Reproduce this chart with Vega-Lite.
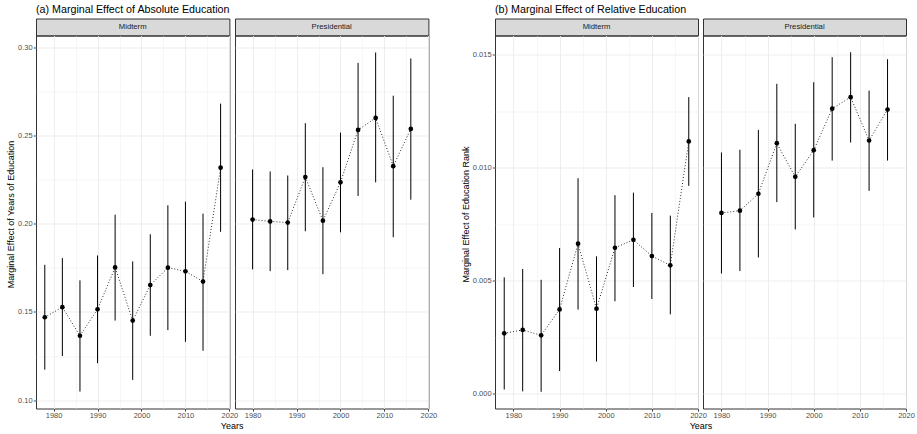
{
  "$schema": "https://vega.github.io/schema/vega-lite/v6.json",
  "padding": {"left": 6, "top": 3.5, "right": 5, "bottom": 2},
  "config": {
    "font": "Liberation Sans",
    "view": {"stroke": "#333333", "strokeWidth": 1},
    "axis": {
      "domain": false,
      "labelFont": "Liberation Sans", "labelFontSize": 7.5, "labelColor": "#4d4d4d",
      "tickColor": "#333333", "tickSize": 2.7, "tickWidth": 0.9, "labelPadding": 1.2,
      "titleFont": "Liberation Sans", "titleFontSize": 9, "titleFontWeight": "normal", "titleColor": "#000000",
      "gridColor": "#ebebeb",
      "labelFlush": false, "labelOverlap": false, "labelBound": false
    },
    "axisX": {"labelPadding": 0.3, "titlePadding": 2},
    "title": {"font": "Liberation Sans", "fontSize": 10.7, "fontWeight": "normal", "color": "#000000", "anchor": "start", "offset": 2.5}
  },
  "datasets": {
    "est": [
      {"panel": "a", "election": "Midterm", "year": 1978, "est": 0.1470, "lo": 0.1173, "hi": 0.1767},
      {"panel": "a", "election": "Midterm", "year": 1982, "est": 0.1527, "lo": 0.1250, "hi": 0.1805},
      {"panel": "a", "election": "Midterm", "year": 1986, "est": 0.1365, "lo": 0.1049, "hi": 0.1679},
      {"panel": "a", "election": "Midterm", "year": 1990, "est": 0.1515, "lo": 0.1210, "hi": 0.1820},
      {"panel": "a", "election": "Midterm", "year": 1994, "est": 0.1752, "lo": 0.1451, "hi": 0.2051},
      {"panel": "a", "election": "Midterm", "year": 1998, "est": 0.1451, "lo": 0.1115, "hi": 0.1786},
      {"panel": "a", "election": "Midterm", "year": 2002, "est": 0.1652, "lo": 0.1365, "hi": 0.1940},
      {"panel": "a", "election": "Midterm", "year": 2006, "est": 0.1751, "lo": 0.1397, "hi": 0.2104},
      {"panel": "a", "election": "Midterm", "year": 2010, "est": 0.1730, "lo": 0.1331, "hi": 0.2125},
      {"panel": "a", "election": "Midterm", "year": 2014, "est": 0.1672, "lo": 0.1280, "hi": 0.2057},
      {"panel": "a", "election": "Midterm", "year": 2018, "est": 0.2317, "lo": 0.1954, "hi": 0.2680},
      {"panel": "a", "election": "Presidential", "year": 1980, "est": 0.2023, "lo": 0.1741, "hi": 0.2307},
      {"panel": "a", "election": "Presidential", "year": 1984, "est": 0.2013, "lo": 0.1731, "hi": 0.2296},
      {"panel": "a", "election": "Presidential", "year": 1988, "est": 0.2006, "lo": 0.1737, "hi": 0.2273},
      {"panel": "a", "election": "Presidential", "year": 1992, "est": 0.2264, "lo": 0.1957, "hi": 0.2569},
      {"panel": "a", "election": "Presidential", "year": 1996, "est": 0.2017, "lo": 0.1714, "hi": 0.2320},
      {"panel": "a", "election": "Presidential", "year": 2000, "est": 0.2234, "lo": 0.1951, "hi": 0.2516},
      {"panel": "a", "election": "Presidential", "year": 2004, "est": 0.2531, "lo": 0.2157, "hi": 0.2911},
      {"panel": "a", "election": "Presidential", "year": 2008, "est": 0.2599, "lo": 0.2234, "hi": 0.2970},
      {"panel": "a", "election": "Presidential", "year": 2012, "est": 0.2326, "lo": 0.1923, "hi": 0.2725},
      {"panel": "a", "election": "Presidential", "year": 2016, "est": 0.2537, "lo": 0.2136, "hi": 0.2936},
      {"panel": "b", "election": "Midterm", "year": 1978, "est": 0.00267, "lo": 0.00018, "hi": 0.00515},
      {"panel": "b", "election": "Midterm", "year": 1982, "est": 0.00282, "lo": 0.00010, "hi": 0.00552},
      {"panel": "b", "election": "Midterm", "year": 1986, "est": 0.00258, "lo": 0.00008, "hi": 0.00504},
      {"panel": "b", "election": "Midterm", "year": 1990, "est": 0.00373, "lo": 0.00100, "hi": 0.00645},
      {"panel": "b", "election": "Midterm", "year": 1994, "est": 0.00664, "lo": 0.00372, "hi": 0.00954},
      {"panel": "b", "election": "Midterm", "year": 1998, "est": 0.00376, "lo": 0.00142, "hi": 0.00608},
      {"panel": "b", "election": "Midterm", "year": 2002, "est": 0.00646, "lo": 0.00409, "hi": 0.00879},
      {"panel": "b", "election": "Midterm", "year": 2006, "est": 0.00681, "lo": 0.00472, "hi": 0.00890},
      {"panel": "b", "election": "Midterm", "year": 2010, "est": 0.00609, "lo": 0.00419, "hi": 0.00800},
      {"panel": "b", "election": "Midterm", "year": 2014, "est": 0.00568, "lo": 0.00351, "hi": 0.00788},
      {"panel": "b", "election": "Midterm", "year": 2018, "est": 0.01117, "lo": 0.00920, "hi": 0.01313},
      {"panel": "b", "election": "Presidential", "year": 1980, "est": 0.00800, "lo": 0.00532, "hi": 0.01068},
      {"panel": "b", "election": "Presidential", "year": 1984, "est": 0.00810, "lo": 0.00543, "hi": 0.01080},
      {"panel": "b", "election": "Presidential", "year": 1988, "est": 0.00885, "lo": 0.00603, "hi": 0.01168},
      {"panel": "b", "election": "Presidential", "year": 1992, "est": 0.01109, "lo": 0.00848, "hi": 0.01372},
      {"panel": "b", "election": "Presidential", "year": 1996, "est": 0.00960, "lo": 0.00727, "hi": 0.01195},
      {"panel": "b", "election": "Presidential", "year": 2000, "est": 0.01078, "lo": 0.00780, "hi": 0.01379},
      {"panel": "b", "election": "Presidential", "year": 2004, "est": 0.01262, "lo": 0.01032, "hi": 0.01490},
      {"panel": "b", "election": "Presidential", "year": 2008, "est": 0.01313, "lo": 0.01112, "hi": 0.01512},
      {"panel": "b", "election": "Presidential", "year": 2012, "est": 0.01121, "lo": 0.00898, "hi": 0.01342},
      {"panel": "b", "election": "Presidential", "year": 2016, "est": 0.01258, "lo": 0.01032, "hi": 0.01481}
    ]
  },
  "columns": 5,
  "spacing": {"row": 0, "column": 5},
  "bounds": "flush",
  "concat": [
    {
      "title": {"text": "(a) Marginal Effect of Absolute Education"},
      "width": 193.4, "height": 17,
      "view": {"fill": "#d9d9d9", "stroke": "#333333"},
      "data": {"values": [{"label": "Midterm"}]},
      "mark": {"type": "text", "fontSize": 7.7, "color": "#1a1a1a", "baseline": "middle", "align": "center"},
      "encoding": {"text": {"field": "label"}}
    },
    {
      "width": 193.4, "height": 17,
      "view": {"fill": "#d9d9d9", "stroke": "#333333"},
      "data": {"values": [{"label": "Presidential"}]},
      "mark": {"type": "text", "fontSize": 7.7, "color": "#1a1a1a", "baseline": "middle", "align": "center"},
      "encoding": {"text": {"field": "label"}}
    },
    {
      "width": 56, "height": 17,
      "view": {"stroke": null},
      "data": {"values": [{"label": ""}]},
      "mark": {"type": "text"},
      "encoding": {"text": {"field": "label"}}
    },
    {
      "title": {"text": "(b) Marginal Effect of Relative Education"},
      "width": 203, "height": 17,
      "view": {"fill": "#d9d9d9", "stroke": "#333333"},
      "data": {"values": [{"label": "Midterm"}]},
      "mark": {"type": "text", "fontSize": 7.7, "color": "#1a1a1a", "baseline": "middle", "align": "center"},
      "encoding": {"text": {"field": "label"}}
    },
    {
      "width": 203, "height": 17,
      "view": {"fill": "#d9d9d9", "stroke": "#333333"},
      "data": {"values": [{"label": "Presidential"}]},
      "mark": {"type": "text", "fontSize": 7.7, "color": "#1a1a1a", "baseline": "middle", "align": "center"},
      "encoding": {"text": {"field": "label"}}
    },
    {
      "width": 193.4, "height": 373,
      "data": {"name": "est"},
      "transform": [{"filter": "datum.panel === 'a' && datum.election === 'Midterm'"}],
      "encoding": {
        "x": {"field": "year", "type": "quantitative", "scale": {"domain": [1976, 2020], "nice": false, "zero": false},
          "axis": {"values": [1980, 1985, 1990, 1995, 2000, 2005, 2010, 2015, 2020], "format": "d",
            "labelExpr": "datum.value % 10 === 0 ? datum.label : ''",
            "tickOpacity": {"condition": {"test": "datum.value % 10 !== 0", "value": 0}, "value": 1},
            "gridWidth": {"condition": {"test": "datum.value % 10 !== 0", "value": 0.45}, "value": 0.9},
            "title": "Years", "titleX": 195.7}},
        "y": {"field": "est", "type": "quantitative", "scale": {"domain": [0.0953, 0.3066], "nice": false, "zero": false},
          "axis": {"values": [0.1, 0.125, 0.15, 0.175, 0.2, 0.225, 0.25, 0.275, 0.3], "format": ".2f",
            "labelExpr": "abs(datum.value*20 - round(datum.value*20)) < 1e-6 ? datum.label : ''",
            "tickOpacity": {"condition": {"test": "abs(datum.value*20 - round(datum.value*20)) > 1e-6", "value": 0}, "value": 1},
            "gridWidth": {"condition": {"test": "abs(datum.value*20 - round(datum.value*20)) > 1e-6", "value": 0.45}, "value": 0.9},
            "title": "Marginal Effect of Years of Education", "titleY": 178.5, "titlePadding": 2}}
      },
      "layer": [
        {"mark": {"type": "line", "color": "#000000", "strokeWidth": 0.9, "strokeDash": [0.9, 2.1]}},
        {"mark": {"type": "rule", "color": "#000000", "strokeWidth": 1}, "encoding": {"y": {"field": "lo", "type": "quantitative"}, "y2": {"field": "hi"}}},
        {"mark": {"type": "point", "filled": true, "color": "#000000", "opacity": 1, "size": 22}}
      ]
    },
    {
      "width": 193.4, "height": 373,
      "data": {"name": "est"},
      "transform": [{"filter": "datum.panel === 'a' && datum.election === 'Presidential'"}],
      "encoding": {
        "x": {"field": "year", "type": "quantitative", "scale": {"domain": [1976, 2020], "nice": false, "zero": false},
          "axis": {"values": [1980, 1985, 1990, 1995, 2000, 2005, 2010, 2015, 2020], "format": "d",
            "labelExpr": "datum.value % 10 === 0 ? datum.label : ''",
            "tickOpacity": {"condition": {"test": "datum.value % 10 !== 0", "value": 0}, "value": 1},
            "gridWidth": {"condition": {"test": "datum.value % 10 !== 0", "value": 0.45}, "value": 0.9},
            "title": null}},
        "y": {"field": "est", "type": "quantitative", "scale": {"domain": [0.0953, 0.3066], "nice": false, "zero": false},
          "axis": {"values": [0.1, 0.125, 0.15, 0.175, 0.2, 0.225, 0.25, 0.275, 0.3],
            "labels": false, "ticks": false, "title": null,
            "gridWidth": {"condition": {"test": "abs(datum.value*20 - round(datum.value*20)) > 1e-6", "value": 0.45}, "value": 0.9}}}
      },
      "layer": [
        {"mark": {"type": "line", "color": "#000000", "strokeWidth": 0.9, "strokeDash": [0.9, 2.1]}},
        {"mark": {"type": "rule", "color": "#000000", "strokeWidth": 1}, "encoding": {"y": {"field": "lo", "type": "quantitative"}, "y2": {"field": "hi"}}},
        {"mark": {"type": "point", "filled": true, "color": "#000000", "opacity": 1, "size": 22}}
      ]
    },
    {
      "width": 56, "height": 373,
      "view": {"stroke": null},
      "data": {"values": [{"label": ""}]},
      "mark": {"type": "text"},
      "encoding": {"text": {"field": "label"}}
    },
    {
      "width": 203, "height": 373,
      "data": {"name": "est"},
      "transform": [{"filter": "datum.panel === 'b' && datum.election === 'Midterm'"}],
      "encoding": {
        "x": {"field": "year", "type": "quantitative", "scale": {"domain": [1976, 2020], "nice": false, "zero": false},
          "axis": {"values": [1980, 1985, 1990, 1995, 2000, 2005, 2010, 2015, 2020], "format": "d",
            "labelExpr": "datum.value % 10 === 0 ? datum.label : ''",
            "tickOpacity": {"condition": {"test": "datum.value % 10 !== 0", "value": 0}, "value": 1},
            "gridWidth": {"condition": {"test": "datum.value % 10 !== 0", "value": 0.45}, "value": 0.9},
            "title": "Years", "titleX": 205.5}},
        "y": {"field": "est", "type": "quantitative", "scale": {"domain": [-0.00066, 0.01586], "nice": false, "zero": false},
          "axis": {"values": [0, 0.0025, 0.005, 0.0075, 0.01, 0.0125, 0.015], "format": ".3f",
            "labelExpr": "abs(datum.value*200 - round(datum.value*200)) < 1e-6 ? datum.label : ''",
            "tickOpacity": {"condition": {"test": "abs(datum.value*200 - round(datum.value*200)) > 1e-6", "value": 0}, "value": 1},
            "gridWidth": {"condition": {"test": "abs(datum.value*200 - round(datum.value*200)) > 1e-6", "value": 0.45}, "value": 0.9},
            "title": "Marginal Effect of Education Rank", "titleY": 178.5, "titlePadding": 2}}
      },
      "layer": [
        {"mark": {"type": "line", "color": "#000000", "strokeWidth": 0.9, "strokeDash": [0.9, 2.1]}},
        {"mark": {"type": "rule", "color": "#000000", "strokeWidth": 1}, "encoding": {"y": {"field": "lo", "type": "quantitative"}, "y2": {"field": "hi"}}},
        {"mark": {"type": "point", "filled": true, "color": "#000000", "opacity": 1, "size": 22}}
      ]
    },
    {
      "width": 203, "height": 373,
      "data": {"name": "est"},
      "transform": [{"filter": "datum.panel === 'b' && datum.election === 'Presidential'"}],
      "encoding": {
        "x": {"field": "year", "type": "quantitative", "scale": {"domain": [1976, 2020], "nice": false, "zero": false},
          "axis": {"values": [1980, 1985, 1990, 1995, 2000, 2005, 2010, 2015, 2020], "format": "d",
            "labelExpr": "datum.value % 10 === 0 ? datum.label : ''",
            "tickOpacity": {"condition": {"test": "datum.value % 10 !== 0", "value": 0}, "value": 1},
            "gridWidth": {"condition": {"test": "datum.value % 10 !== 0", "value": 0.45}, "value": 0.9},
            "title": null}},
        "y": {"field": "est", "type": "quantitative", "scale": {"domain": [-0.00066, 0.01586], "nice": false, "zero": false},
          "axis": {"values": [0, 0.0025, 0.005, 0.0075, 0.01, 0.0125, 0.015],
            "labels": false, "ticks": false, "title": null,
            "gridWidth": {"condition": {"test": "abs(datum.value*200 - round(datum.value*200)) > 1e-6", "value": 0.45}, "value": 0.9}}}
      },
      "layer": [
        {"mark": {"type": "line", "color": "#000000", "strokeWidth": 0.9, "strokeDash": [0.9, 2.1]}},
        {"mark": {"type": "rule", "color": "#000000", "strokeWidth": 1}, "encoding": {"y": {"field": "lo", "type": "quantitative"}, "y2": {"field": "hi"}}},
        {"mark": {"type": "point", "filled": true, "color": "#000000", "opacity": 1, "size": 22}}
      ]
    }
  ]
}
